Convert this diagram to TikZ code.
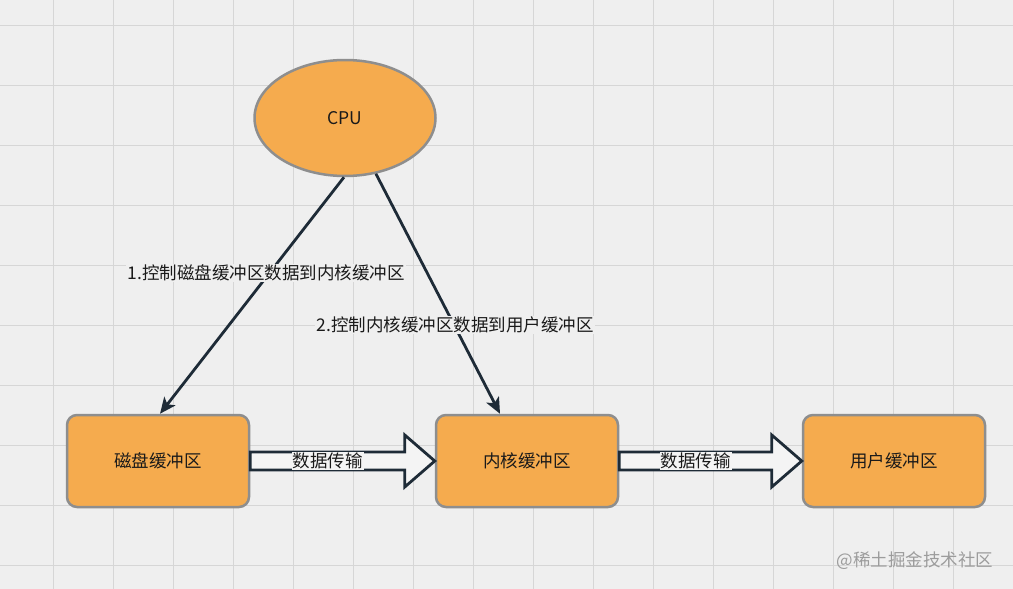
\documentclass[tikz,border=0pt]{standalone}
\usepackage{fontspec}
\setmainfont{Noto Sans CJK SC}
\usetikzlibrary{arrows.meta,shapes.geometric,calc}
\definecolor{bg}{HTML}{EFEFEF}
\definecolor{gridc}{HTML}{D6D6D6}
\definecolor{orangefill}{HTML}{F5AB4E}
\definecolor{bordc}{HTML}{8E8E8E}
\definecolor{dark}{HTML}{1E2B37}
\definecolor{txt}{HTML}{1A1A1A}
\definecolor{inner}{HTML}{F4F4F4}
\definecolor{wm}{HTML}{9C9C9C}
\tikzset{
  every node/.style={font=\fontsize{17.5}{20}\selectfont, text=txt},
  box/.style={rectangle, rounded corners=10pt, draw=bordc, line width=2.5pt, fill=orangefill, minimum width=182pt, minimum height=92pt, inner sep=0pt},
  cpunode/.style={ellipse, draw=bordc, line width=2.5pt, fill=orangefill, minimum width=181pt, minimum height=116pt, inner sep=0pt},
  conn/.style={draw=dark, line width=2.8pt, -{Stealth[length=16pt,width=14pt,inset=4pt]}},
  fat/.style={draw=dark, line width=2.8pt, fill=inner, line join=miter},
  lbl/.style={fill=bg, inner sep=1pt},
  fatlbl/.style={fill=inner, inner sep=1pt}
}
\begin{document}
\begin{tikzpicture}[x=1pt,y=-1pt]
\fill[bg] (0,0) rectangle (1013,589);
\useasboundingbox (0,0) rectangle (1013,589);
\foreach \x in {53,113,...,1013} \draw[gridc, line width=0.8pt] (\x,0) -- (\x,589);
\foreach \y in {25,85,...,565} \draw[gridc, line width=0.8pt] (0,\y) -- (1013,\y);

\node[cpunode] (cpu) at (345,118) {CPU};
\node[box] (disk) at (158,461) {磁盘缓冲区};
\node[box] (kern) at (527,461) {内核缓冲区};
\node[box] (user) at (894,461) {用户缓冲区};

% fat arrows
\draw[fat] ($(disk.east)+(0,-9)$) -- ($(kern.west)+(-30,-9)$) -- ($(kern.west)+(-30,-26)$) -- (kern.west) -- ($(kern.west)+(-30,26)$) -- ($(kern.west)+(-30,9)$) -- ($(disk.east)+(0,9)$) -- cycle;
\node[fatlbl] (t1) at ($(disk.east)!0.5!($(kern.west)+(-30,0)$)$) {数据传输};
\draw[fat] ($(kern.east)+(0,-9)$) -- ($(user.west)+(-30,-9)$) -- ($(user.west)+(-30,-26)$) -- (user.west) -- ($(user.west)+(-30,26)$) -- ($(user.west)+(-30,9)$) -- ($(kern.east)+(0,9)$) -- cycle;
\node[fatlbl] (t2) at ($(kern.east)!0.5!($(user.west)+(-30,0)$)$) {数据传输};

% control arrows
\draw[conn] (cpu.-91) -- ($(disk.north)+(2,0)$);
\draw[conn] (cpu.-61) -- ($(kern.north)+(-27,0)$);
\node[lbl] (l1) at (266,273) {1.控制磁盘缓冲区数据到内核缓冲区};
\node[lbl] (l2) at (455,325) {2.控制内核缓冲区数据到用户缓冲区};

\node[text=wm, inner sep=0pt] (wmk) at (915,561) {@稀土掘金技术社区};
\end{tikzpicture}
\end{document}
